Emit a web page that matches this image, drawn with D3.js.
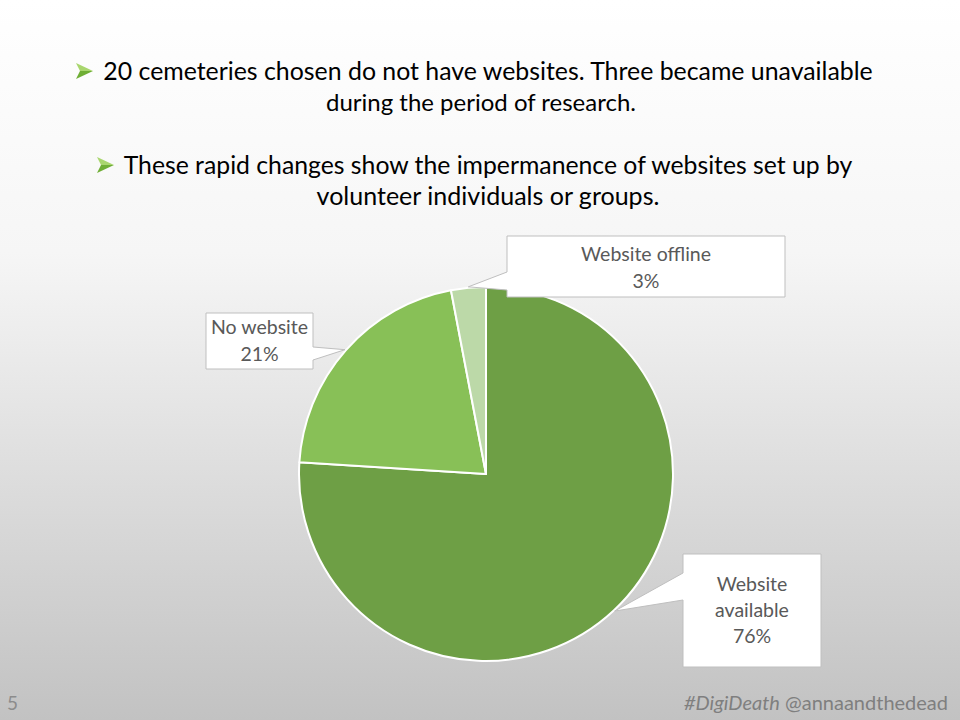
<!DOCTYPE html>
<html><head><meta charset="utf-8">
<script src="https://cdn.jsdelivr.net/npm/d3@7"></script>
<style>html,body{margin:0;padding:0;}svg{display:block;}</style>
</head><body>
<script>
const categories = ["Website available", "No website", "Website offline"];
const values = [76, 21, 3];
const colors = ["#6e9f45", "#88c057", "#bcd9a8"];
const labelLines = [["Website", "available", "76%"], ["No website", "21%"], ["Website offline", "3%"]];
const titleLines = [
  "20 cemeteries chosen do not have websites. Three became unavailable",
  "during the period of research.",
  "These rapid changes show the impermanence of websites set up by",
  "volunteer individuals or groups."
];
const pageNumber = "5";
const footerTag = "#DigiDeath";
const footerHandle = " @annaandthedead";

const W = 960, H = 720;
const svg = d3.select("body").append("svg").attr("width", W).attr("height", H);
const defs = svg.append("defs");
const bg = defs.append("linearGradient").attr("id", "bg").attr("x1", 0).attr("y1", 0).attr("x2", 0).attr("y2", 1);
bg.append("stop").attr("offset", "0%").attr("stop-color", "#ffffff");
bg.append("stop").attr("offset", "35%").attr("stop-color", "#f6f6f6");
bg.append("stop").attr("offset", "100%").attr("stop-color", "#c2c2c2");
svg.append("rect").attr("width", W).attr("height", H).attr("fill", "url(#bg)");

// Title with bullets
const font = "Lato, 'Open Sans', sans-serif";
const titleSpec = [
  {x: 488, y: 80, bullet: 76},
  {x: 481, y: 111, bullet: null},
  {x: 488, y: 174, bullet: 97},
  {x: 488, y: 205, bullet: null}
];
const targetW = [770, 310, 729, 343];
titleLines.forEach((t, i) => {
  const s = titleSpec[i];
  const txt = svg.append("text").attr("x", s.x).attr("y", s.y)
    .attr("text-anchor", "middle").attr("font-family", font)
    .attr("font-size", 22).attr("fill", "#000").text(t);
  const w = txt.node().getComputedTextLength();
  txt.attr("font-size", 22 * targetW[i] / w);
  if (s.bullet !== null) {
    const g = svg.append("g").attr("transform", `translate(${s.bullet},${s.y - 17})`);
    g.append("path").attr("d", "M0,0 L17,8 L4,8 Z").attr("fill", "#a9d66e");
    g.append("path").attr("d", "M0,16 L17,8 L4,8 Z").attr("fill", "#6fae35");
  }
});

// Pie
const cx = 486, cy = 474, R = 187;
const pie = d3.pie().sort(null).value(d => d)(values);
const arc = d3.arc().innerRadius(0).outerRadius(R);
const pg = svg.append("g").attr("transform", `translate(${cx},${cy})`);
pg.selectAll("path").data(pie).join("path")
  .attr("d", arc).attr("fill", (d, i) => colors[i])
  .attr("stroke", "#ffffff").attr("stroke-width", 2).attr("stroke-linejoin", "round");

// Callouts
const boxes = [
  {x: 683, y: 554, w: 138, h: 113, side: "left", b0: 573, b1: 600, lh: 26, ty: 591},
  {x: 206, y: 313, w: 107, h: 56, side: "right", b0: 347, b1: 360, lh: 27, ty: 334},
  {x: 507, y: 236, w: 278, h: 61, side: "left", b0: 272, b1: 290, lh: 27, ty: 261}
];
pie.forEach((d, i) => {
  const b = boxes[i];
  const a = (d.startAngle + d.endAngle) / 2;
  const tx = cx + (R + 1) * Math.sin(a), ty = cy - (R + 1) * Math.cos(a);
  let p;
  const x0 = b.x, y0 = b.y, x1 = b.x + b.w, y1 = b.y + b.h;
  if (b.side === "left") {
    p = `M${x0},${y0} L${x1},${y0} L${x1},${y1} L${x0},${y1} L${x0},${b.b1} L${tx},${ty} L${x0},${b.b0} Z`;
  } else {
    p = `M${x0},${y0} L${x1},${y0} L${x1},${b.b0} L${tx},${ty} L${x1},${b.b1} L${x1},${y1} L${x0},${y1} Z`;
  }
  svg.append("path").attr("d", p).attr("fill", "#ffffff").attr("stroke", "#bfbfbf").attr("stroke-width", 1);
  const t = svg.append("text").attr("text-anchor", "middle").attr("font-family", font)
    .attr("font-size", 19.5).attr("fill", "#595959");
  labelLines[i].forEach((ln, j) => {
    t.append("tspan").attr("x", b.x + b.w / 2).attr("y", b.ty + j * b.lh).text(ln);
  });
});

// Footer
svg.append("text").attr("x", 7).attr("y", 710).attr("font-family", font)
  .attr("font-size", 19).attr("fill", "#8c8c8c").text(pageNumber);
const ft = svg.append("text").attr("x", 948).attr("y", 710).attr("text-anchor", "end")
  .attr("font-family", font).attr("font-size", 20).attr("fill", "#7f7f7f");
ft.append("tspan").attr("font-style", "italic").text(footerTag);
ft.append("tspan").text(footerHandle);
</script>
</body></html>
